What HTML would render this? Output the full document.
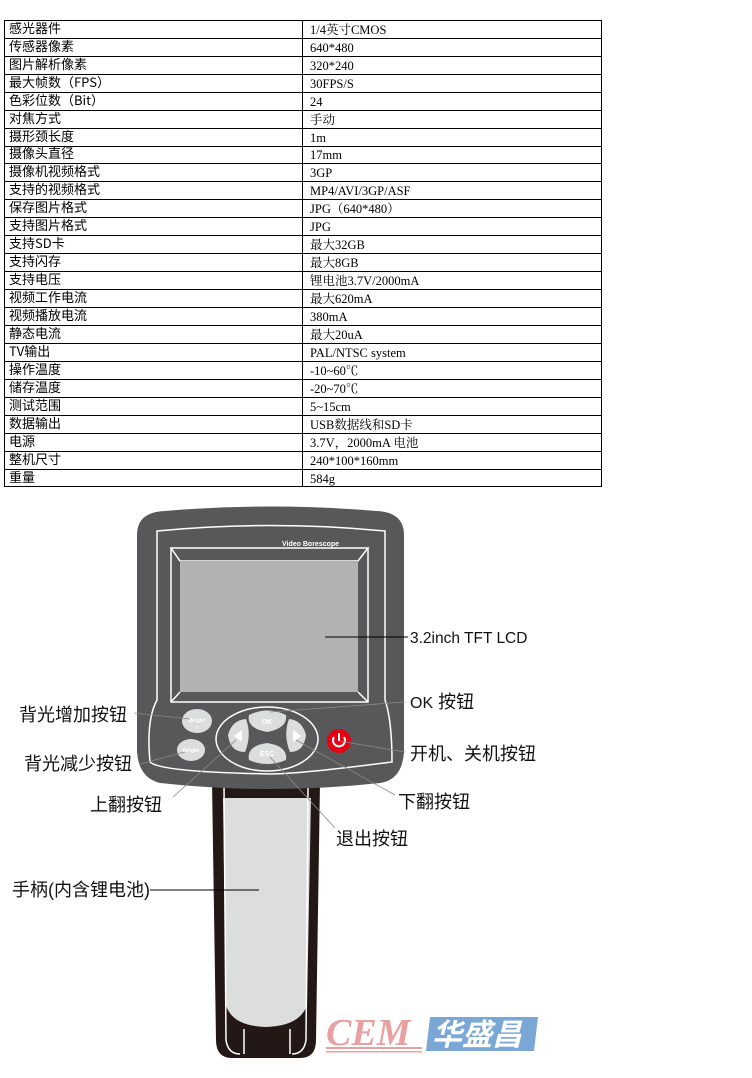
<!DOCTYPE html>
<html><head><meta charset="utf-8"><style>
html,body{margin:0;padding:0;background:#fff;width:752px;height:1078px;overflow:hidden}
svg{display:block}
.l{font-family:"Noto Sans CJK SC","WenQuanYi Zen Hei",sans-serif;font-size:13px;fill:#000}
.r{font-family:"Liberation Serif","Noto Serif CJK SC",serif;font-size:12.5px;fill:#000}
.lab{font-family:"Liberation Sans","Noto Sans CJK SC",sans-serif;font-size:18px;fill:#111}
</style></head><body>
<svg width="752" height="1078" viewBox="0 0 752 1078" xmlns="http://www.w3.org/2000/svg">
<g id="table" stroke="#000" stroke-width="1" fill="none">
<rect x="4.5" y="20.5" width="597" height="466"/>
<line x1="302.5" y1="20" x2="302.5" y2="487"/>
</g>
<g stroke="#000" stroke-width="1">
<line x1="4" x2="602" y1="38.5" y2="38.5"/><line x1="4" x2="602" y1="56.5" y2="56.5"/><line x1="4" x2="602" y1="74.5" y2="74.5"/><line x1="4" x2="602" y1="92.5" y2="92.5"/><line x1="4" x2="602" y1="110.5" y2="110.5"/><line x1="4" x2="602" y1="128.5" y2="128.5"/><line x1="4" x2="602" y1="146.5" y2="146.5"/><line x1="4" x2="602" y1="163.5" y2="163.5"/><line x1="4" x2="602" y1="181.5" y2="181.5"/><line x1="4" x2="602" y1="199.5" y2="199.5"/><line x1="4" x2="602" y1="217.5" y2="217.5"/><line x1="4" x2="602" y1="235.5" y2="235.5"/><line x1="4" x2="602" y1="253.5" y2="253.5"/><line x1="4" x2="602" y1="271.5" y2="271.5"/><line x1="4" x2="602" y1="289.5" y2="289.5"/><line x1="4" x2="602" y1="307.5" y2="307.5"/><line x1="4" x2="602" y1="325.5" y2="325.5"/><line x1="4" x2="602" y1="343.5" y2="343.5"/><line x1="4" x2="602" y1="361.5" y2="361.5"/><line x1="4" x2="602" y1="379.5" y2="379.5"/><line x1="4" x2="602" y1="397.5" y2="397.5"/><line x1="4" x2="602" y1="415.5" y2="415.5"/><line x1="4" x2="602" y1="433.5" y2="433.5"/><line x1="4" x2="602" y1="451.5" y2="451.5"/><line x1="4" x2="602" y1="469.5" y2="469.5"/>
</g>
<g class="l">
<text x="9" y="33">感光器件</text><text x="9" y="51">传感器像素</text><text x="9" y="69">图片解析像素</text><text x="9" y="87">最大帧数（FPS）</text><text x="9" y="105">色彩位数（Bit）</text><text x="9" y="123">对焦方式</text><text x="9" y="141">摄形颈长度</text><text x="9" y="158">摄像头直径</text><text x="9" y="176">摄像机视频格式</text><text x="9" y="194">支持的视频格式</text><text x="9" y="212">保存图片格式</text><text x="9" y="230">支持图片格式</text><text x="9" y="248">支持SD卡</text><text x="9" y="266">支持闪存</text><text x="9" y="284">支持电压</text><text x="9" y="302">视频工作电流</text><text x="9" y="320">视频播放电流</text><text x="9" y="338">静态电流</text><text x="9" y="356">TV输出</text><text x="9" y="374">操作温度</text><text x="9" y="392">储存温度</text><text x="9" y="410">测试范围</text><text x="9" y="428">数据输出</text><text x="9" y="446">电源</text><text x="9" y="464">整机尺寸</text><text x="9" y="482">重量</text>
</g>
<g class="r">
<text x="310" y="34">1/4英寸CMOS</text><text x="310" y="52">640*480</text><text x="310" y="70">320*240</text><text x="310" y="88">30FPS/S</text><text x="310" y="106">24</text><text x="310" y="124">手动</text><text x="310" y="142">1m</text><text x="310" y="159">17mm</text><text x="310" y="177">3GP</text><text x="310" y="195">MP4/AVI/3GP/ASF</text><text x="310" y="213">JPG（640*480）</text><text x="310" y="231">JPG</text><text x="310" y="249">最大32GB</text><text x="310" y="267">最大8GB</text><text x="310" y="285">锂电池3.7V/2000mA</text><text x="310" y="303">最大620mA</text><text x="310" y="321">380mA</text><text x="310" y="339">最大20uA</text><text x="310" y="357">PAL/NTSC system</text><text x="310" y="375">-10~60℃</text><text x="310" y="393">-20~70℃</text><text x="310" y="411">5~15cm</text><text x="310" y="429">USB数据线和SD卡</text><text x="310" y="447">3.7V，2000mA 电池</text><text x="310" y="465">240*100*160mm</text><text x="310" y="483">584g</text>
</g>

<!-- handle -->
<path d="M212 782 L320 782 L316 1040 Q316 1058 300 1058 L232 1058 Q216 1058 216 1040 Z" fill="#231815"/>
<path d="M223 798 L311 798 L307 1005 Q300 1026 266 1027 Q232 1026 226 1005 Z" fill="#dcdddd"/>
<path d="M224 785 L226 1040 Q228 1054 240 1054" fill="none" stroke="#fff" stroke-width="1.5"/>
<path d="M308 785 L306 1040 Q304 1054 292 1054" fill="none" stroke="#fff" stroke-width="1.5"/>
<line x1="244" y1="1029" x2="244" y2="1054" stroke="#fff" stroke-width="1.5"/>
<line x1="290" y1="1029" x2="290" y2="1054" stroke="#fff" stroke-width="1.5"/>

<!-- body -->
<path d="M137 535 Q137 512 165 511 Q270 502 376 511 Q404 512 404 535 L404 752 Q402 780 380 783 Q270 795 160 783 Q139 778 137 752 Z" fill="#58585a"/>
<path d="M157 531 Q270 520 385 531 L385 700 Q392 720 392 762 Q300 774 270 774 Q160 772 150 762 Q146 720 157 700 Z" fill="none" stroke="#fff" stroke-width="1.5"/>
<path d="M171 548 L368 548 L358 561 L180 561 Z" fill="#58585a" stroke="#fff" stroke-width="1.5"/>
<path d="M171 548 L171 702 L368 702 L368 548" fill="none" stroke="#fff" stroke-width="1.5"/>
<line x1="171" y1="702" x2="180" y2="692" stroke="#fff" stroke-width="1.5"/>
<line x1="368" y1="702" x2="358" y2="692" stroke="#fff" stroke-width="1.5"/>
<rect x="180" y="561" width="178" height="131" fill="#b2b2b2"/>
<text x="282" y="546" font-family="Liberation Sans,sans-serif" font-size="7" font-weight="bold" fill="#fff">Video Borescope</text>

<ellipse cx="267" cy="739" rx="51" ry="32" fill="none" stroke="#fff" stroke-width="1.5"/>
<path d="M249 715 Q267 706 286 715 Q288 728 267 732 Q246 728 249 715 Z" fill="#dcdddd"/>
<text x="267" y="724" text-anchor="middle" font-family="Liberation Sans" font-size="7" font-weight="bold" fill="#fff">OK</text>
<path d="M249 760 Q267 768 286 760 Q288 746 267 743 Q246 746 249 760 Z" fill="#dcdddd"/>
<text x="267" y="756" text-anchor="middle" font-family="Liberation Sans" font-size="7" font-weight="bold" fill="#fff">ESC</text>
<path d="M228 735 Q232 720 246 719 Q252 735 245 752 Q230 752 228 735 Z" fill="#dcdddd"/>
<path d="M242 730 L234 736 L242 742 Z" fill="#fff"/>
<path d="M306 735 Q302 720 289 719 Q283 735 290 752 Q304 752 306 735 Z" fill="#dcdddd"/>
<path d="M293 730 L301 736 L293 742 Z" fill="#fff"/>
<ellipse cx="197" cy="721" rx="15" ry="12" fill="#dcdddd"/>
<text x="197" y="722" text-anchor="middle" font-family="Liberation Sans" font-size="5.5" font-weight="bold" fill="#fff">Bright</text>
<text x="197" y="729" text-anchor="middle" font-family="Liberation Sans" font-size="6" fill="#fff">+</text>
<ellipse cx="191" cy="750" rx="14" ry="11" fill="#dcdddd"/>
<text x="191" y="752" text-anchor="middle" font-family="Liberation Sans" font-size="5.5" font-weight="bold" fill="#fff">Bright</text>
<circle cx="339" cy="741" r="12" fill="#e60012"/>
<path d="M334 737 A6 6 0 1 0 344 737" fill="none" stroke="#fff" stroke-width="2"/>
<line x1="339" y1="733" x2="339" y2="741" stroke="#fff" stroke-width="2"/>

<!-- leader lines -->
<g stroke="#000" stroke-width="1" fill="none">
<line x1="325" y1="637" x2="408" y2="637"/>
<line x1="150" y1="890" x2="259" y2="890"/>
</g>
<g stroke="#888" stroke-width="0.8" fill="none">
<line x1="134" y1="713" x2="190" y2="719"/>
<line x1="140" y1="764" x2="185" y2="752"/>
<line x1="173" y1="797" x2="236" y2="740"/>
<line x1="270" y1="712" x2="405" y2="702"/>
<line x1="339" y1="741" x2="405" y2="752"/>
<line x1="296" y1="740" x2="395" y2="795"/>
<line x1="270" y1="757" x2="335" y2="828"/>
</g>

<g class="lab">
<text x="410" y="643" font-size="15.5">3.2inch TFT LCD</text>
<text x="410" y="708"><tspan font-size="16">OK</tspan> 按钮</text>
<text x="410" y="760">开机、关机按钮</text>
<text x="19" y="721">背光增加按钮</text>
<text x="24" y="770">背光减少按钮</text>
<text x="90" y="811">上翻按钮</text>
<text x="398" y="808">下翻按钮</text>
<text x="336" y="845">退出按钮</text>
<text x="12" y="896">手柄(内含锂电池)</text>
</g>

<!-- logo -->
<text x="326" y="1045" font-family="Liberation Serif,serif" font-size="38" font-style="italic" font-weight="bold" fill="#e8a0a0">CEM</text>
<rect x="326" y="1047" width="96" height="2" fill="#e8a0a0"/>
<rect x="326" y="1051" width="96" height="1.5" fill="#e8a0a0"/>
<path d="M430 1017 L538 1017 L534 1051 L426 1051 Z" fill="#7ba7d6"/>
<text x="432" y="1045" font-family="Noto Sans CJK SC,sans-serif" font-size="30" font-weight="bold" font-style="italic" fill="#fff">华盛昌</text>
</svg>
</body></html>
